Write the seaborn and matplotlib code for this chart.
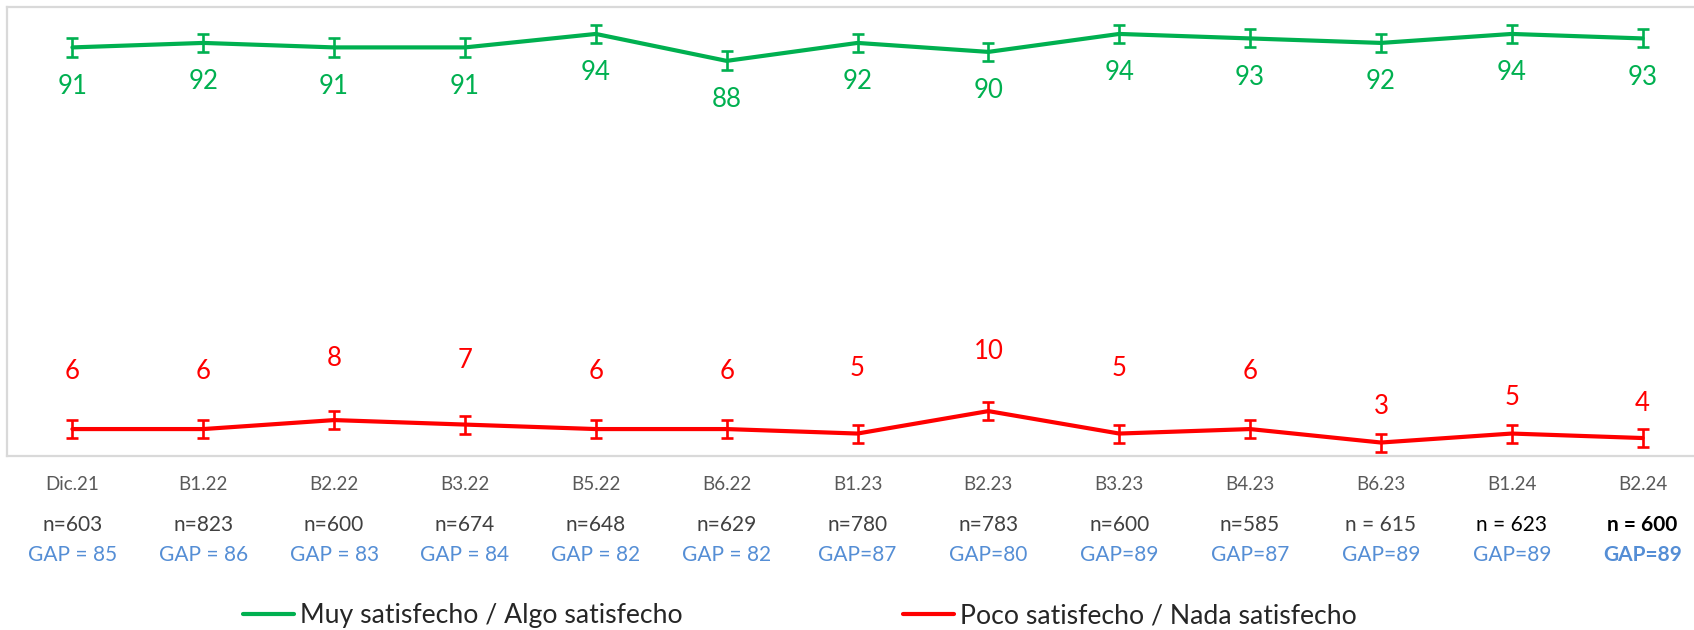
import pandas as pd
import seaborn as sns
import matplotlib.pyplot as plt
from matplotlib.lines import Line2D
from matplotlib.transforms import blended_transform_factory

# Survey waves and results (%)
waves = ["Dic.21", "B1.22", "B2.22", "B3.22", "B5.22", "B6.22", "B1.23",
         "B2.23", "B3.23", "B4.23", "B6.23", "B1.24", "B2.24"]
satisfied = [91, 92, 91, 91, 94, 88, 92, 90, 94, 93, 92, 94, 93]
dissatisfied = [6, 6, 8, 7, 6, 6, 5, 10, 5, 6, 3, 5, 4]
satisfied_err = [2.1, 2.0, 2.1, 2.1, 2.0, 2.1, 2.0, 2.0, 2.0, 2.0, 2.0, 2.0, 2.0]
dissatisfied_err = [2.0, 2.0, 2.0, 2.0, 2.0, 2.0, 2.0, 2.0, 2.0, 2.0, 2.0, 2.0, 2.0]
sample_sizes = ["n=603", "n=823", "n=600", "n=674", "n=648", "n=629", "n=780",
                "n=783", "n=600", "n=585", "n = 615", "n = 623", "n = 600"]
gap_labels = ["GAP = 85", "GAP = 86", "GAP = 83", "GAP = 84", "GAP = 82",
              "GAP = 82", "GAP=87", "GAP=80", "GAP=89", "GAP=87", "GAP=89",
              "GAP=89", "GAP=89"]
series_names = ["Muy satisfecho / Algo satisfecho",
                "Poco satisfecho / Nada satisfecho"]

GREEN = "#00B050"
RED = "#FF0000"
BLUE = "#558ED5"
BORDER = "#D9D9D9"

sns.set_theme(style="white")
plt.rcParams["font.family"] = ["Lato", "DejaVu Sans"]

W, H = 1694, 630
fig = plt.figure(figsize=(W / 100, H / 100), dpi=100)
fig.patch.set_facecolor("white")
# plot box: left edge at 7px, runs past the right side of the canvas
ax = fig.add_axes([7 / W, 1 - 456 / H, (1708 - 7) / W, 449 / H])

idx = list(range(len(waves)))
df = pd.DataFrame({
    "idx": idx * 2,
    "value": satisfied + dissatisfied,
    "serie": [series_names[0]] * len(waves) + [series_names[1]] * len(waves),
})
sns.lineplot(data=df, x="idx", y="value", hue="serie",
             palette=[GREEN, RED], linewidth=3.0, ax=ax, legend=False)

for vals, errs, col in [(satisfied, satisfied_err, GREEN),
                        (dissatisfied, dissatisfied_err, RED)]:
    ax.errorbar(idx, vals, yerr=errs, fmt="none", ecolor=col,
                elinewidth=1.9, capsize=4.6, capthick=1.9, zorder=3)

ax.set_xlim(-0.5, len(waves) - 0.5)
ax.set_ylim(0, 100)
ax.set_xticks([])
ax.set_yticks([])
ax.set_xlabel("")
ax.set_ylabel("")
for sp in ax.spines.values():
    sp.set_visible(True)
    sp.set_color(BORDER)
    sp.set_linewidth(1.6)

# value labels (green below the line, red above it)
PX = 72 / 100  # pixels -> points
red_label_lift = [58, 58, 62, 64, 58, 58, 65, 60, 65, 58, 36, 36, 35]
for i, v in enumerate(satisfied):
    ax.annotate(f"{v}", (i, v), xytext=(0, -39 * PX), textcoords="offset points",
                ha="center", va="center", color=GREEN, fontsize=18.5)
for i, v in enumerate(dissatisfied):
    ax.annotate(f"{v}", (i, v), xytext=(0, red_label_lift[i] * PX),
                textcoords="offset points", ha="center", va="center",
                color=RED, fontsize=18.5)

# category, sample size and gap rows under the plot
tr = blended_transform_factory(ax.transData, fig.transFigure)
for i in idx:
    ax.text(i, 1 - 485 / H, waves[i], transform=tr, ha="center", va="center",
            color="#595959", fontsize=13.5)
    if i == len(waves) - 1:
        ncol, nw, gw = "black", "bold", "bold"
    elif i == len(waves) - 2:
        ncol, nw, gw = "black", "normal", "normal"
    else:
        ncol, nw, gw = "#404040", "normal", "normal"
    ax.text(i, 1 - 525 / H, sample_sizes[i], transform=tr, ha="center",
            va="center", color=ncol, fontsize=15, fontweight=nw)
    ax.text(i, 1 - 555 / H, gap_labels[i], transform=tr, ha="center",
            va="center", color=BLUE, fontsize=15, fontweight=gw)

# legend entries placed side by side at the bottom
for name, col, x0 in [(series_names[0], GREEN, 243), (series_names[1], RED, 903)]:
    h = Line2D([], [], color=col, linewidth=3.0)
    fig.legend([h], [name], loc="center left",
               bbox_to_anchor=(x0 / W, 1 - 616 / H), frameon=False,
               fontsize=19.2, handlelength=1.93, handletextpad=0.2,
               borderpad=0, borderaxespad=0)

fig.savefig("out.png", dpi=100, facecolor="white")
